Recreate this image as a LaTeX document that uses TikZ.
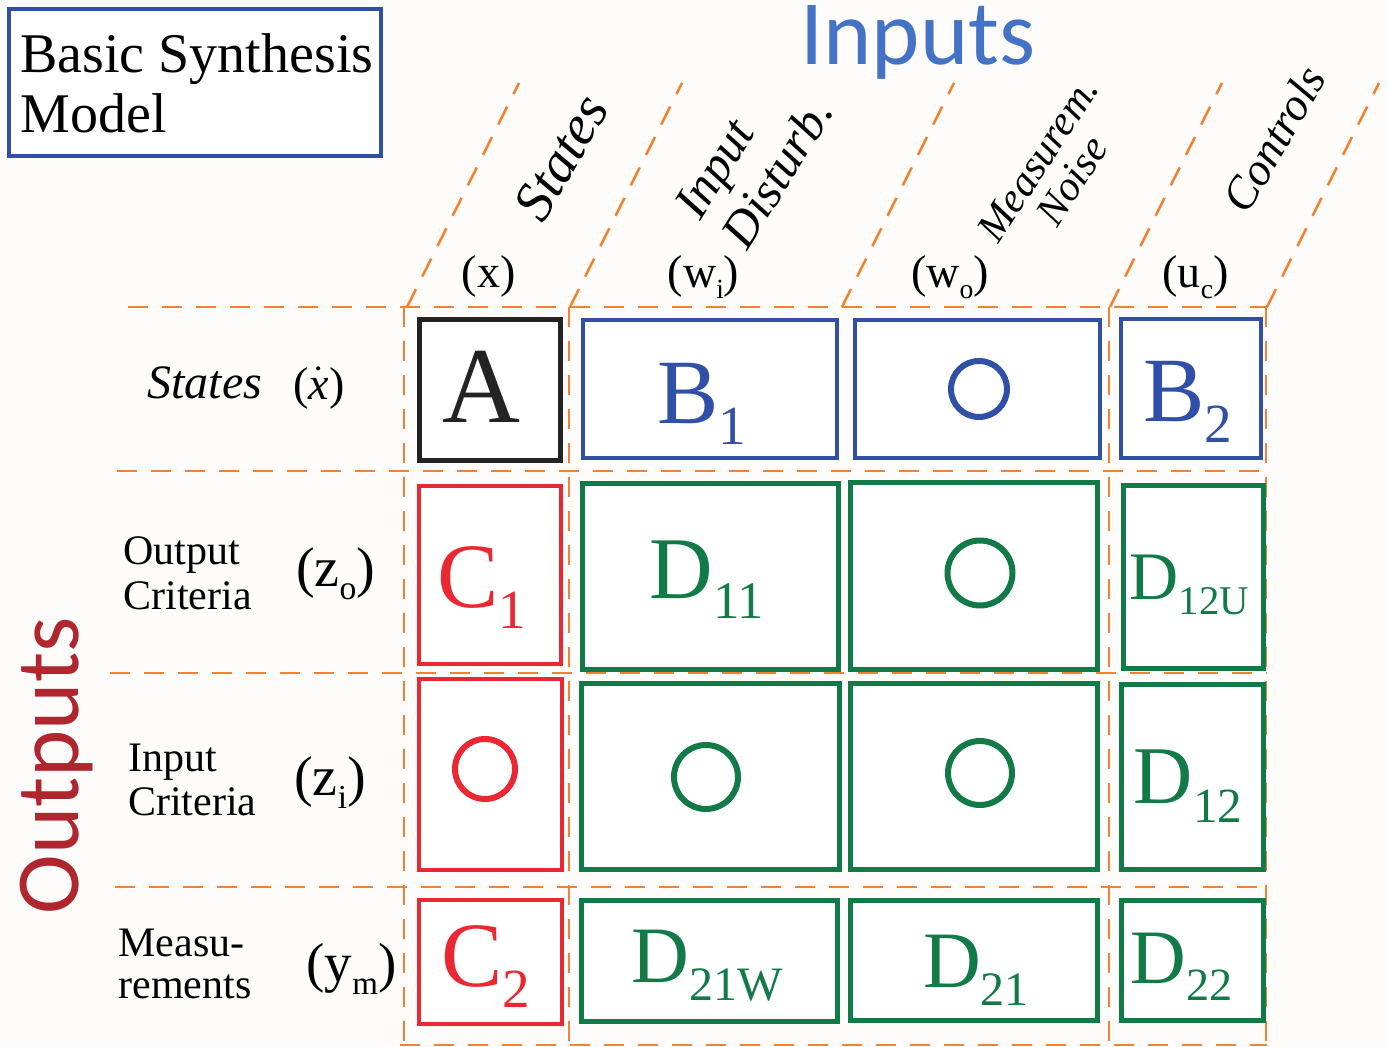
\documentclass[tikz,border=0pt]{standalone}
\usepackage{fontspec}
\setmainfont{Liberation Serif}
\newfontfamily\carlito{Carlito}
\definecolor{orng}{RGB}{242,130,50}
\definecolor{mblue}{RGB}{48,80,168}
\definecolor{iblue}{RGB}{68,114,196}
\definecolor{mred}{RGB}{234,40,50}
\definecolor{dred}{RGB}{176,38,46}
\definecolor{mgreen}{RGB}{18,122,70}
\definecolor{mblack}{RGB}{35,35,35}
\definecolor{bgcol}{RGB}{253,252,251}
\newcommand{\Msub}[2]{#1\raisebox{-0.22em}{\scalebox{0.6}{#2}}}
\newcommand{\fsz}[2]{\fontsize{#1pt}{#2pt}\selectfont}
\begin{document}
\begin{tikzpicture}[x=0.5pt,y=-0.5pt,
  gridline/.style={draw=orng, line width=1.3pt, dash pattern=on 10pt off 7pt},
  cellbox/.style={draw=#1, fill=white, rectangle, inner sep=0pt},
  ring/.style={draw=#1, circle, line width=3pt, inner sep=0pt},
  celltext/.style={text=#1, anchor=base, inner sep=0pt},
  hdr/.style={anchor=base, inner sep=0pt, font=\fsz{23}{26}},
  rowlab/.style={anchor=base west, inner sep=0pt, font=\fsz{21}{22.5}},
  rowsym/.style={anchor=base, inner sep=0pt},
  slanttext/.style={anchor=center, inner sep=0pt, font=\itshape}
]
\useasboundingbox (0,0) rectangle (1389,1047);
\fill[bgcol] (0,0) rectangle (1389,1047);

% ---- title box
\node[draw=mblue, line width=2pt, fill=white, inner sep=0pt,
      minimum width=185.9pt, minimum height=73.6pt] (title) at (195,82.5) {};
\node[anchor=base west, inner sep=0pt, font=\fsz{28}{31}] (t1) at (20,73) {Basic Synthesis};
\node[anchor=base west, inner sep=0pt, font=\fsz{28}{31}] (t2) at (20,133) {Model};

% ---- big headings
\node[anchor=base, inner sep=0pt, text height=0.62em, text depth=0.2em, text=iblue, font=\carlito\fsz{46}{50}] (inputs) at (918,65) {Inputs};
\node[anchor=base, inner sep=0pt, text=dred, font=\carlito\fsz{45}{50}, rotate=90] (outputs) at (78,766) {Outputs};

% ---- dashed grid
\draw[gridline] (128,307) -- (1268,307);
\draw[gridline] (117,471) -- (1267,471);
\draw[gridline] (110,673) -- (1267,673);
\draw[gridline] (115,887) -- (1267,887);
\draw[gridline] (400,1045) -- (1267,1045);
\draw[gridline] (404,307) -- (404,1045);
\draw[gridline] (569,307) -- (569,1045);
\draw[gridline] (1109,307) -- (1109,1045);
\draw[gridline] (1266,307) -- (1266,1045);
\foreach \xb in {407,570,842,1110,1267}
  \draw[gridline] (\xb,307) -- (\xb+112,83);

% ---- column headings (slanted)
\node[slanttext, rotate=60, font=\itshape\fsz{28}{30}] (hs) at (561,157) {States};
\node[slanttext, rotate=58, align=left, font=\itshape\fsz{25}{28}] (hid) at (754,158) {Input\\Disturb.};
\node[slanttext, rotate=57, align=center, font=\itshape\fsz{21}{20}] (hmn) at (1055,170) {Measurem.\\Noise};
\node[slanttext, rotate=60, font=\itshape\fsz{23}{26}] (hc) at (1274,139) {Controls};

\node[hdr] (vx) at (488.5,288) {(x)};
\node[hdr] (vwi) at (703.5,288) {(\Msub{w}{i})};
\node[hdr] (vwo) at (950,288) {(\Msub{w}{o})};
\node[hdr] (vuc) at (1195.5,288) {(\Msub{u}{c})};

% ---- row headings
\node[rowlab, font=\itshape\fsz{24}{26}] (rs) at (147,399) {States};
\node[anchor=base west, inner sep=0pt, font=\fsz{23}{26}] (rsx) at (293,400) {($\dot{\mbox{\itshape x}}$)};
\node[rowlab] (ro1) at (123,565) {Output};
\node[rowlab] (ro2) at (123,610) {Criteria};
\node[rowsym, font=\fsz{28}{30}] (rzo) at (335.5,587) {(\Msub{z}{o})};
\node[rowlab] (ri1) at (127.7,771.5) {Input};
\node[rowlab] (ri2) at (127.7,815.6) {Criteria};
\node[rowsym, font=\fsz{28}{30}] (rzi) at (330,796) {(\Msub{z}{i})};
\node[rowlab] (rm1) at (118,957) {Measu-};
\node[rowlab] (rm2) at (118,999) {rements};
\node[rowsym, font=\fsz{27.5}{30}] (rym) at (351.5,982) {(\Msub{y}{m})};

% ---- matrix cells
% row 1
\node[cellbox=mblack, line width=2.5pt, minimum width=70.8pt, minimum height=70.8pt] (bA) at (490,390) {};
\node[cellbox=mblue, line width=2pt, minimum width=127pt, minimum height=69pt] (bB1) at (710,389) {};
\node[cellbox=mblue, line width=2pt, minimum width=122.5pt, minimum height=69pt] (bO1) at (977.5,389) {};
\node[cellbox=mblue, line width=2pt, minimum width=70pt, minimum height=69.5pt] (bB2) at (1191,388.5) {};
% row 2
\node[cellbox=mred, line width=2pt, minimum width=71pt, minimum height=89pt] (bC1) at (490,575) {};
\node[cellbox=mgreen, line width=2.5pt, minimum width=128pt, minimum height=93pt] (bD11) at (710.5,576.5) {};
\node[cellbox=mgreen, line width=2.5pt, minimum width=123.5pt, minimum height=93.5pt] (bO2) at (974,576) {};
\node[cellbox=mgreen, line width=2.5pt, minimum width=70pt, minimum height=91.5pt] (bD12U) at (1193.5,577) {};
% row 3
\node[cellbox=mred, line width=2pt, minimum width=71.5pt, minimum height=95.5pt] (bO3r) at (490.5,774.5) {};
\node[cellbox=mgreen, line width=2.5pt, minimum width=129pt, minimum height=93pt] (bO3a) at (710.5,776.5) {};
\node[cellbox=mgreen, line width=2.5pt, minimum width=123.5pt, minimum height=93pt] (bO3b) at (974,776.5) {};
\node[cellbox=mgreen, line width=2.5pt, minimum width=71pt, minimum height=92.5pt] (bD12) at (1192.5,777) {};
% row 4
\node[cellbox=mred, line width=2pt, minimum width=71.5pt, minimum height=62pt] (bC2) at (490.5,962) {};
\node[cellbox=mgreen, line width=2.5pt, minimum width=128pt, minimum height=60.5pt] (bD21W) at (709.5,961) {};
\node[cellbox=mgreen, line width=2.5pt, minimum width=123.5pt, minimum height=60pt] (bD21) at (974,960.5) {};
\node[cellbox=mgreen, line width=2.5pt, minimum width=71pt, minimum height=60pt] (bD22) at (1192.5,960.5) {};

% ---- cell contents
\node[celltext=mblack, font=\fsz{54}{60}] (lA) at (481,423) {A};
\node[celltext=mblue, font=\fsz{46}{50}] (lB1) at (702,424) {\Msub{B}{1}};
\node[ring=mblue, minimum size=28pt] (cB) at (979,389) {};
\node[celltext=mblue, font=\fsz{46}{50}] (lB2) at (1187.5,422) {\Msub{B}{2}};

\node[celltext=mred, font=\fsz{46}{50}] (lC1) at (482,608) {\Msub{C}{1}};
\node[celltext=mgreen, font=\fsz{44}{50}] (lD11) at (707,599) {\Msub{D}{11}};
\node[ring=mgreen, minimum size=32.5pt] (cO2) at (980,573) {};
\node[celltext=mgreen, font=\fsz{34}{40}] (lD12U) at (1189.5,600) {\Msub{D}{12U}};

\node[ring=mred, minimum size=30pt] (cR) at (485,769) {};
\node[ring=mgreen, minimum size=32pt] (cG1) at (706,777) {};
\node[ring=mgreen, minimum size=32pt] (cG2) at (980,773) {};
\node[celltext=mgreen, font=\fsz{41}{46}] (lD12) at (1188,804) {\Msub{D}{12}};

\node[celltext=mred, font=\fsz{46}{50}] (lC2) at (485.5,987) {\Msub{C}{2}};
\node[celltext=mgreen, font=\fsz{40}{46}] (lD21W) at (707.5,983) {\Msub{D}{21W}};
\node[celltext=mgreen, font=\fsz{40}{46}] (lD21) at (976,988) {\Msub{D}{21}};
\node[celltext=mgreen, font=\fsz{38.5}{44}] (lD22) at (1181.5,984) {\Msub{D}{22}};
\end{tikzpicture}
\end{document}
